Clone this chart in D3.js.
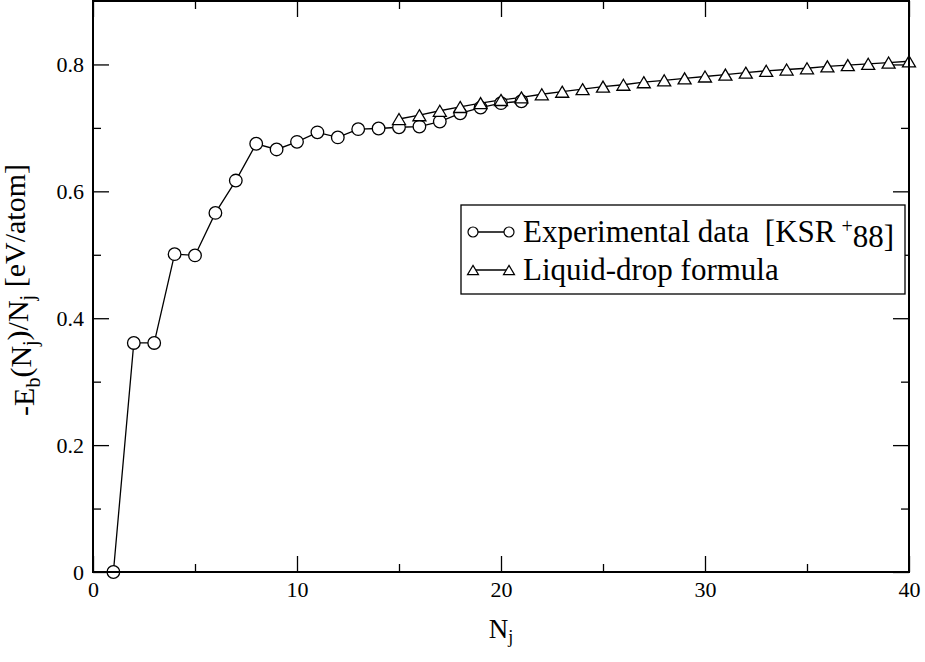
<!DOCTYPE html>
<html>
<head>
<meta charset="utf-8">
<script src="https://cdn.jsdelivr.net/npm/d3@7"></script>
<style>
  body { margin: 0; background: #fff; }
  svg { display: block; }
</style>
</head>
<body>
<div id="chart"></div>
<script>
// experimental binding energies per atom
var expN = [1, 2, 3, 4, 5, 6, 7, 8, 9, 10, 11, 12, 13, 14, 15, 16, 17, 18, 19, 20, 21];
var expE = [0.0, 0.361, 0.361, 0.501, 0.499, 0.566, 0.617, 0.675, 0.666, 0.678, 0.693, 0.685,
            0.698, 0.699, 0.701, 0.702, 0.710, 0.723, 0.732, 0.739, 0.742];

// liquid-drop formula
var ldN = [15, 16, 17, 18, 19, 20, 21, 22, 23, 24, 25, 26, 27, 28, 29, 30, 31, 32, 33, 34, 35, 36, 37, 38, 39, 40];
var ldE = [0.714, 0.720, 0.727, 0.733, 0.739, 0.744, 0.748, 0.753, 0.757, 0.761, 0.765, 0.768,
           0.772, 0.775, 0.778, 0.781, 0.784, 0.787, 0.790, 0.792, 0.794, 0.797, 0.799, 0.801, 0.803, 0.805];

var xMajor = [0, 10, 20, 30, 40];
var xMinor = [5, 15, 25, 35];
var yMajor = [0, 0.2, 0.4, 0.6, 0.8];
var yMinor = [0.1, 0.3, 0.5, 0.7];

var legendLabels = ["Experimental data\u00a0\u00a0[KSR", "Liquid-drop formula"];

var FONT = "'Liberation Serif', 'Times New Roman', Times, serif";

var W = 925, H = 662;
var margin = { top: 1, right: 16, bottom: 90, left: 93 };
var width = W - margin.left - margin.right;
var height = H - margin.top - margin.bottom;

var svg = d3.select("#chart").append("svg")
    .attr("width", W)
    .attr("height", H);

var g = svg.append("g")
    .attr("transform", "translate(" + margin.left + "," + margin.top + ")");

var x = d3.scaleLinear().domain([0, 40]).range([0, width]);
var y = d3.scaleLinear().domain([0, 0.9]).range([height, 0]);

// ticks on all four sides, pointing inwards
function addAxis(axis, vals, size, labels, tr) {
    var a = g.append("g")
        .attr("transform", tr)
        .call(axis.tickValues(vals).tickSize(-size).tickPadding(labels ? 9 : 0)
            .tickFormat(labels ? d3.format("") : ""));
    a.select(".domain").remove();
    a.selectAll("line").attr("stroke", "#000").attr("stroke-width", 1.3);
    a.selectAll("text").style("font-size", "22px").attr("fill", "#000");
    return a;
}
var fmtY = function (d) { return d === 0 ? "0" : d3.format(".1f")(d); };

addAxis(d3.axisBottom(x), xMajor, 16, true, "translate(0," + height + ")");
addAxis(d3.axisBottom(x), xMinor, 8, false, "translate(0," + height + ")");
addAxis(d3.axisTop(x), xMajor, 16, false, "translate(0,0)");
addAxis(d3.axisTop(x), xMinor, 8, false, "translate(0,0)");
var yl = addAxis(d3.axisLeft(y), yMajor, 16, true, "translate(0,0)");
yl.selectAll("text").text(fmtY);
addAxis(d3.axisLeft(y), yMinor, 8, false, "translate(0,0)");
addAxis(d3.axisRight(y), yMajor, 16, false, "translate(" + width + ",0)");
addAxis(d3.axisRight(y), yMinor, 8, false, "translate(" + width + ",0)");

// lines
var line = d3.line()
    .x(function (d) { return x(d[0]); })
    .y(function (d) { return y(d[1]); });

var expData = d3.zip(expN, expE);
var ldData = d3.zip(ldN, ldE);

g.append("path").datum(ldData)
    .attr("d", line).attr("fill", "none")
    .attr("stroke", "#000").attr("stroke-width", 1.3);
g.append("path").datum(expData)
    .attr("d", line).attr("fill", "none")
    .attr("stroke", "#000").attr("stroke-width", 1.3);

function triPath(cx, cy, s) {
    var h = s * 0.85;
    return "M" + cx + "," + (cy - h / 2) + "L" + (cx + s / 2) + "," + (cy + h / 2) +
        "L" + (cx - s / 2) + "," + (cy + h / 2) + "Z";
}

g.selectAll(".exp").data(expData).enter().append("circle")
    .attr("class", "exp")
    .attr("cx", function (d) { return x(d[0]); })
    .attr("cy", function (d) { return y(d[1]); })
    .attr("r", 6.3)
    .attr("fill", "#fff").attr("stroke", "#000").attr("stroke-width", 1.3);

g.selectAll(".ld").data(ldData).enter().append("path")
    .attr("class", "ld")
    .attr("d", function (d) { return triPath(x(d[0]), y(d[1]), 13); })
    .attr("fill", "#fff").attr("stroke", "#000").attr("stroke-width", 1.3);

// frame
g.append("rect")
    .attr("width", width).attr("height", height)
    .attr("fill", "none").attr("stroke", "#000").attr("stroke-width", 2);

// legend
var leg = svg.append("g").attr("transform", "translate(461,205)");
leg.append("rect").attr("width", 444).attr("height", 89)
    .attr("fill", "#fff").attr("stroke", "#000").attr("stroke-width", 1.3);

var rows = [27, 65];
rows.forEach(function (ry, i) {
    leg.append("line").attr("x1", 12).attr("x2", 48).attr("y1", ry).attr("y2", ry)
        .attr("stroke", "#000").attr("stroke-width", 1.3);
    [12, 48].forEach(function (mx) {
        if (i === 0) {
            leg.append("circle").attr("cx", mx).attr("cy", ry).attr("r", 5)
                .attr("fill", "#fff").attr("stroke", "#000").attr("stroke-width", 1.2);
        } else {
            leg.append("path").attr("d", triPath(mx, ry, 11))
                .attr("fill", "#fff").attr("stroke", "#000").attr("stroke-width", 1.2);
        }
    });
    var t = leg.append("text").attr("x", 62).attr("y", ry + 10)
        .style("font-size", "31px").text(legendLabels[i]);
    if (i === 0) {
        t.append("tspan").attr("dx", "0.3em").attr("dy", "-0.45em")
            .style("font-size", "20px").text("+");
        t.append("tspan").attr("dy", "0.45em").text("88]");
    }
});

// axis titles
var xt = svg.append("text")
    .attr("x", margin.left + width / 2).attr("y", 638)
    .attr("text-anchor", "middle")
    .style("font-size", "27px")
    .text("N");
xt.append("tspan").attr("dy", "0.3em").style("font-size", "18px").text("j");

var yt = svg.append("text")
    .attr("transform", "translate(34,290) rotate(-90)")
    .attr("text-anchor", "middle")
    .style("font-size", "30px");
yt.append("tspan").text("-E");
yt.append("tspan").attr("dy", "0.3em").style("font-size", "20px").text("b");
yt.append("tspan").attr("dy", "-0.3em").text("(N");
yt.append("tspan").attr("dy", "0.3em").style("font-size", "20px").text("j");
yt.append("tspan").attr("dy", "-0.3em").text(")/N");
yt.append("tspan").attr("dy", "0.3em").style("font-size", "20px").text("j");
yt.append("tspan").attr("dy", "-0.3em").text("\u00a0[eV/atom]");

svg.selectAll("text").style("font-family", FONT).attr("fill", "#000");
</script>
</body>
</html>
